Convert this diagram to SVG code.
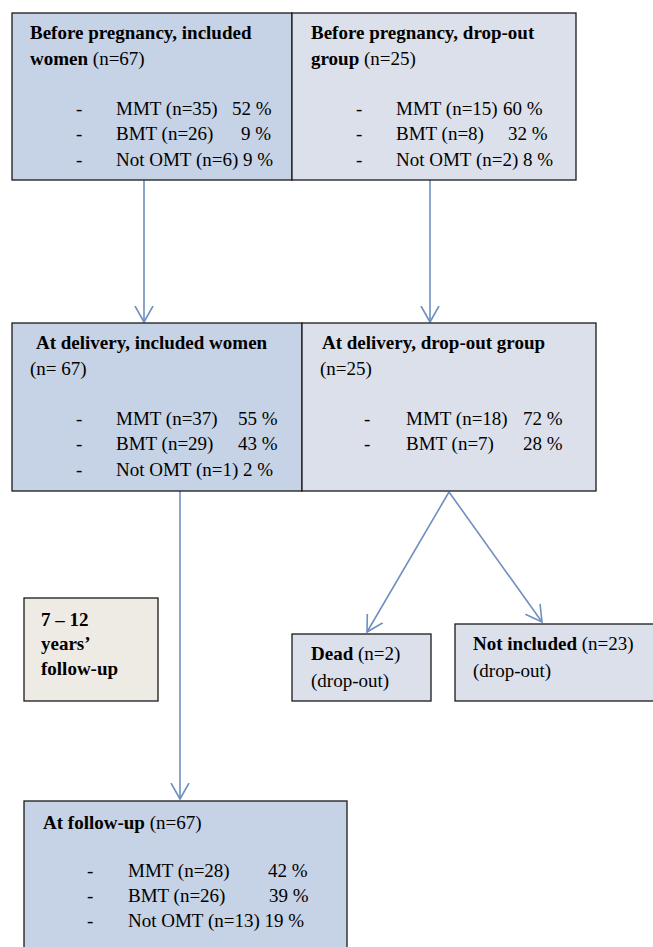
<svg xmlns="http://www.w3.org/2000/svg" width="653" height="947" viewBox="0 0 653 947">
<defs>
<style>
text{font-family:"Liberation Serif","Times New Roman",serif;font-size:19px;fill:#000}
.b{font-weight:bold}
.inc{fill:#C6D2E5;stroke:#1a1a1a;stroke-width:1.3}
.drop{fill:#DCE0EB;stroke:#1a1a1a;stroke-width:1.3}
.note{fill:#EEEBE5;stroke:#1a1a1a;stroke-width:1.3}
.conn{stroke:#6F8FC0;stroke-width:1.6;fill:none}
</style>
<marker id="arr" viewBox="0 0 18 20" refX="16" refY="10" markerWidth="18" markerHeight="20" markerUnits="userSpaceOnUse" orient="auto">
<path d="M0,1 L16,10 L0,19" fill="none" stroke="#6F8FC0" stroke-width="1.6"/>
</marker>
</defs>
<g id="connectors">
<line class="conn" x1="144" y1="180" x2="144" y2="322" marker-end="url(#arr)"/>
<line class="conn" x1="430" y1="180" x2="430" y2="322" marker-end="url(#arr)"/>
<line class="conn" x1="180" y1="491" x2="180" y2="799" marker-end="url(#arr)"/>
<line class="conn" x1="449" y1="492" x2="367" y2="632" marker-end="url(#arr)"/>
<line class="conn" x1="449" y1="492" x2="542" y2="622" marker-end="url(#arr)"/>
</g>
<g id="before-included">
<rect class="inc" x="12" y="13" width="280" height="167"/>
<text class="b" x="30" y="39">Before pregnancy, included</text>
<text x="30" y="65"><tspan class="b">women</tspan> (n=67)</text>
<text x="76" y="115">-</text><text x="116" y="115">MMT (n=35)</text><text x="232" y="115">52 %</text>
<text x="76" y="140">-</text><text x="116" y="140">BMT (n=26)</text><text x="241" y="140">9 %</text>
<text x="76" y="166">-</text><text x="116" y="166">Not OMT (n=6) 9 %</text>
</g>
<g id="before-dropout">
<rect class="drop" x="292" y="13" width="284" height="167"/>
<text class="b" x="311" y="39">Before pregnancy, drop-out</text>
<text x="311" y="65"><tspan class="b">group</tspan> (n=25)</text>
<text x="356" y="115">-</text><text x="396" y="115">MMT (n=15)</text><text x="503" y="115">60 %</text>
<text x="356" y="140">-</text><text x="396" y="140">BMT (n=8)</text><text x="508" y="140">32 %</text>
<text x="356" y="166">-</text><text x="396" y="166">Not OMT (n=2) 8 %</text>
</g>
<g id="delivery-included">
<rect class="inc" x="12" y="323" width="290" height="168"/>
<text class="b" x="36" y="349">At delivery, included women</text>
<text x="30" y="375">(n= 67)</text>
<text x="76" y="425">-</text><text x="116" y="425">MMT (n=37)</text><text x="238" y="425">55 %</text>
<text x="76" y="450">-</text><text x="116" y="450">BMT (n=29)</text><text x="238" y="450">43 %</text>
<text x="76" y="476">-</text><text x="116" y="476">Not OMT (n=1) 2 %</text>
</g>
<g id="delivery-dropout">
<rect class="drop" x="302" y="323" width="294" height="168"/>
<text class="b" x="322" y="349">At delivery, drop-out group</text>
<text x="320" y="375">(n=25)</text>
<text x="364" y="425">-</text><text x="406" y="425">MMT (n=18)</text><text x="523" y="425">72 %</text>
<text x="364" y="450">-</text><text x="406" y="450">BMT (n=7)</text><text x="523" y="450">28 %</text>
</g>
<g id="followup-note">
<rect class="note" x="24" y="598" width="134" height="103"/>
<text class="b" x="41" y="626">7 – 12</text>
<text class="b" x="41" y="650">years’</text>
<text class="b" x="41" y="675">follow-up</text>
</g>
<g id="dead">
<rect class="drop" x="292" y="634" width="139" height="67"/>
<text x="311" y="660"><tspan class="b">Dead</tspan> (n=2)</text>
<text x="311" y="687">(drop-out)</text>
</g>
<g id="not-included">
<rect class="drop" x="455" y="624" width="205" height="77"/>
<text x="473" y="650"><tspan class="b">Not included</tspan> (n=23)</text>
<text x="473" y="677">(drop-out)</text>
</g>
<g id="at-followup">
<rect class="inc" x="24" y="801" width="323" height="160"/>
<text x="43" y="829"><tspan class="b">At follow-up</tspan> (n=67)</text>
<text x="87" y="877">-</text><text x="128" y="877">MMT (n=28)</text><text x="268" y="877">42 %</text>
<text x="87" y="902">-</text><text x="128" y="902">BMT (n=26)</text><text x="269" y="902">39 %</text>
<text x="87" y="927">-</text><text x="128" y="927">Not OMT (n=13) 19 %</text>
</g>
</svg>
